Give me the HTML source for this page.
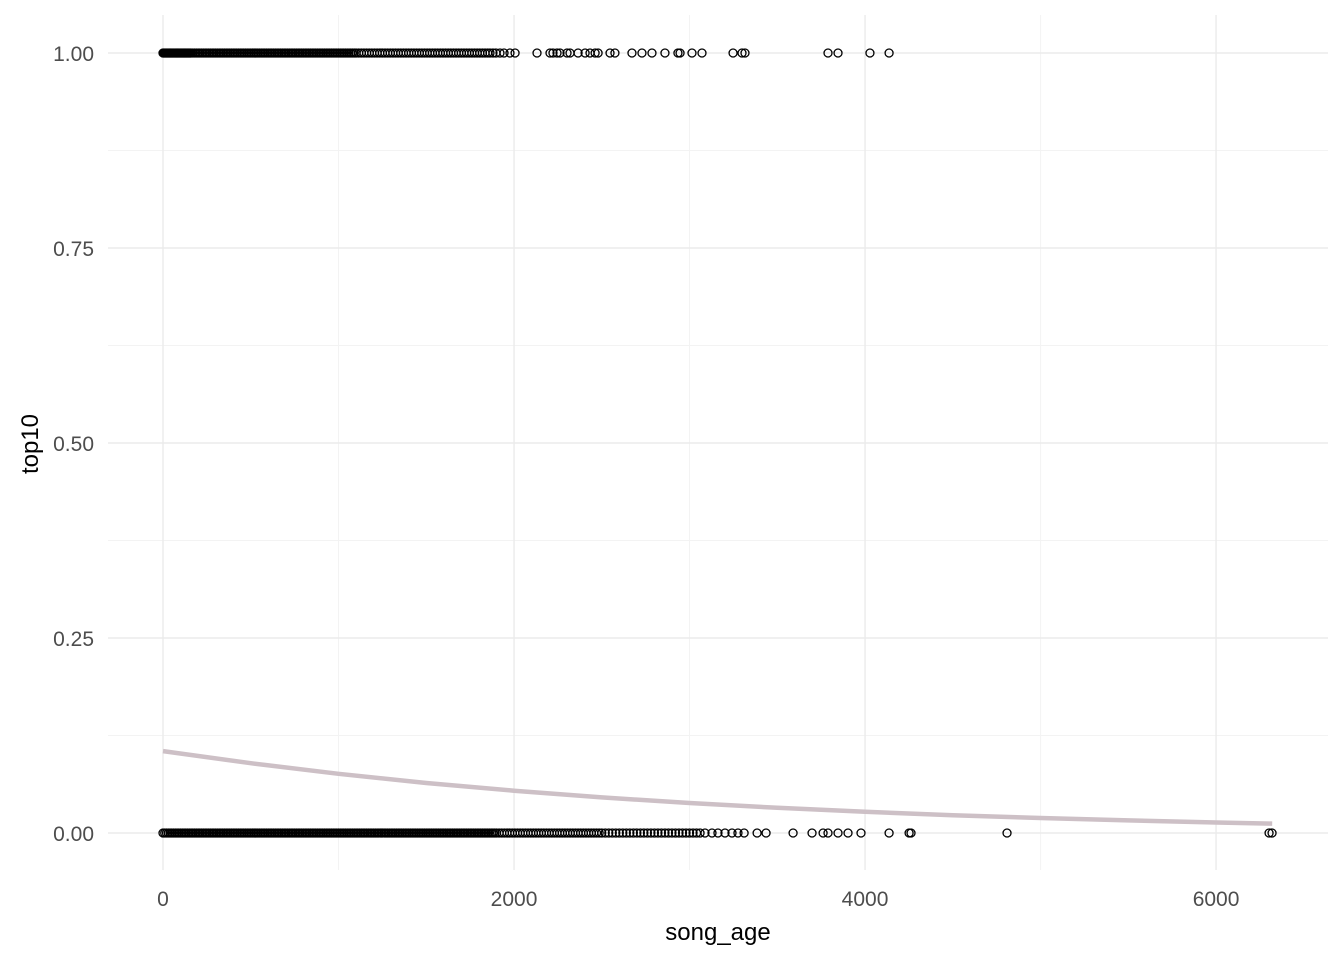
<!DOCTYPE html>
<html><head><meta charset="utf-8"><style>
html,body{margin:0;padding:0;background:#fff;}
svg{display:block;font-family:"Liberation Sans",Arial,sans-serif;}
</style></head><body>
<svg id="chart" width="1344" height="960" viewBox="0 0 1344 960" xmlns="http://www.w3.org/2000/svg">
<g id="grid"></g>
<g id="fit"></g>
<g id="pts"></g>
<g id="axes"></g>
<text x="718" y="940" font-size="24" text-anchor="middle" fill="#000">song_age</text>
<text transform="translate(38,444) rotate(-90)" font-size="24" text-anchor="middle" fill="#000">top10</text>
</svg>
<script>
const xTicks=[0,2000,4000,6000];
const xMinor=[1000,3000,5000];
const yTicks=[0,0.25,0.5,0.75,1];
const yTickLabels=["0.00","0.25","0.50","0.75","1.00"];
const yMinor=[0.125,0.375,0.625,0.875];
const topAges=[0,5,10,15,20,25,30,35,40,45,50,55,60,65,70,75,80,85,90,95,100,105,110,115,120,125,130,135,140,145,150,155,160,170,180,190,200,210,220,230,240,250,260,270,280,290,300,310,320,330,340,350,360,370,380,390,400,410,420,430,440,450,460,470,480,490,500,510,520,530,540,550,560,570,580,590,600,610,620,630,640,650,660,670,680,690,700,710,720,730,740,750,760,770,780,790,800,810,820,830,840,850,860,870,880,890,900,910,920,930,940,950,960,970,980,990,1000,1010,1020,1030,1040,1050,1060,1070,1080,1090,1100,1115,1130,1145,1160,1175,1190,1205,1220,1235,1250,1265,1280,1295,1310,1325,1340,1355,1370,1385,1400,1415,1430,1445,1460,1475,1490,1505,1520,1535,1550,1565,1580,1595,1610,1625,1640,1655,1670,1685,1700,1715,1730,1745,1760,1775,1790,1805,1820,1835,1850,1863,1880,1897,1920,1943,1977,2006,2131,2205,2222,2245,2262,2302,2319,2365,2405,2433,2462,2479,2547,2575,2672,2729,2786,2860,2934,2946,3014,3071,3248,3299,3316,3789,3846,4028,4137];
const bottomAges=[0,10,20,30,40,50,60,70,80,90,100,110,120,130,140,150,160,170,180,190,200,210,220,230,240,250,260,270,280,290,300,310,320,330,340,350,360,370,380,390,400,410,420,430,440,450,460,470,480,490,500,510,520,530,540,550,560,570,580,590,600,610,620,630,640,650,660,670,680,690,700,710,720,730,740,750,760,770,780,790,800,810,820,830,840,850,860,870,880,890,900,910,920,930,940,950,960,970,980,990,1000,1010,1020,1030,1040,1050,1060,1070,1080,1090,1100,1110,1120,1130,1140,1150,1160,1170,1180,1190,1200,1210,1220,1230,1240,1250,1260,1270,1280,1290,1300,1310,1320,1330,1340,1350,1360,1370,1380,1390,1400,1410,1420,1430,1440,1450,1460,1470,1480,1490,1500,1510,1520,1530,1540,1550,1560,1570,1580,1590,1600,1610,1620,1630,1640,1650,1660,1670,1680,1690,1700,1710,1720,1730,1740,1750,1760,1770,1780,1790,1800,1810,1820,1830,1840,1850,1860,1870,1880,1890,1900,1915,1930,1945,1960,1975,1990,2005,2020,2035,2050,2065,2080,2095,2110,2125,2140,2155,2170,2185,2200,2215,2230,2245,2260,2275,2290,2305,2320,2335,2350,2365,2380,2395,2410,2425,2440,2455,2470,2485,2500,2520,2540,2560,2580,2600,2620,2640,2660,2680,2700,2720,2740,2760,2780,2800,2820,2840,2860,2880,2900,2920,2940,2960,2980,3000,3020,3040,3060,3088,3128,3162,3202,3242,3276,3311,3385,3436,3590,3698,3761,3789,3846,3903,3977,4137,4251,4262,4809,6302,6319];
const fitAges=[0,500,1000,1500,2000,2500,3000,3500,4000,4500,5000,5500,6000,6320];
const fitProb=[0.105,0.0895,0.0759,0.0641,0.0542,0.0456,0.0385,0.0323,0.0272,0.0228,0.0192,0.0161,0.0135,0.012];

const NS="http://www.w3.org/2000/svg";
const X0=108,X1=1328,Y0=15,Y1=870;
function sx(v){return 163+v*0.17551;}
function sy(v){return 833-v*780;}
function mk(tag,attrs,parent){const e=document.createElementNS(NS,tag);for(const k in attrs)e.setAttribute(k,attrs[k]);parent.appendChild(e);return e;}
const grid=document.getElementById('grid'),axes=document.getElementById('axes'),pts=document.getElementById('pts'),fit=document.getElementById('fit');
xMinor.forEach(v=>{const l=mk('line',{x1:sx(v),x2:sx(v),y1:Y0,y2:Y1,stroke:'#f3f3f3','stroke-width':1},grid);

});
yMinor.forEach(v=>{const l=mk('line',{x1:X0,x2:X1,y1:sy(v),y2:sy(v),stroke:'#f3f3f3','stroke-width':1},grid);

});
xTicks.forEach(v=>{const l=mk('line',{x1:sx(v),x2:sx(v),y1:Y0,y2:Y1,stroke:'#ebebeb','stroke-width':1.4},grid);


const t=mk('text',{x:sx(v),y:906,'font-size':21,'text-anchor':'middle',fill:'#4d4d4d'},axes);t.textContent=v;

});
yTicks.forEach((v,i)=>{const l=mk('line',{x1:X0,x2:X1,y1:sy(v),y2:sy(v),stroke:'#ebebeb','stroke-width':1.4},grid);


const t=mk('text',{x:94,y:sy(v)+8,'font-size':21,'text-anchor':'end',fill:'#4d4d4d'},axes);t.textContent=yTickLabels[i];

});
let d='';fitAges.forEach((a,i)=>{d+=(i?'L':'M')+sx(a).toFixed(1)+','+sy(fitProb[i]).toFixed(1);});
const fl=mk('path',{d:d,fill:'none',stroke:'#cdc0c6','stroke-width':4.5},fit);


function drawPts(arr,val){arr.forEach(a=>{const c=mk('circle',{cx:sx(a),cy:sy(val),r:4,fill:'none',stroke:'#000','stroke-width':1.3},pts);

});}
drawPts(topAges,1);
drawPts(bottomAges,0);
</script>
</body></html>
